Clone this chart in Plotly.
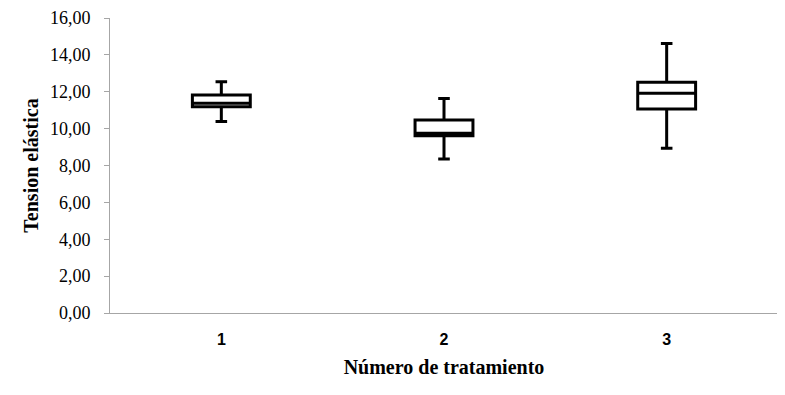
import plotly.graph_objects as go

categories = ["1", "2", "3"]
lower_whisker = [10.38, 8.35, 8.93]
q1_values = [11.19, 9.62, 11.06]
median_values = [11.38, 9.75, 11.92]
q3_values = [11.82, 10.47, 12.51]
upper_whisker = [12.54, 11.64, 14.62]

y_tick_values = [0, 2, 4, 6, 8, 10, 12, 14, 16]
y_tick_labels = ["0,00", "2,00", "4,00", "6,00", "8,00", "10,00", "12,00", "14,00", "16,00"]

fig = go.Figure()
fig.add_trace(go.Box(
    x=categories,
    q1=q1_values,
    median=median_values,
    q3=q3_values,
    lowerfence=lower_whisker,
    upperfence=upper_whisker,
    boxpoints=False,
    fillcolor="white",
    line=dict(color="black", width=3),
    whiskerwidth=0.2,
    width=0.26,
    showlegend=False,
))

fig.update_layout(
    width=777, height=387,
    margin=dict(l=102, r=7, t=10, b=82),
    paper_bgcolor="white", plot_bgcolor="white",
    xaxis=dict(
        type="category",
        range=[-0.5, 2.5],
        automargin=False,
        showline=True, linecolor="#a6a6a6", linewidth=1,
        ticks="", showgrid=False,
        ticklabelstandoff=12,
        tickfont=dict(family="Liberation Sans", size=16, color="black", weight="bold"),
        title=dict(text="<b>Número de tratamiento</b>",
                   font=dict(family="Liberation Serif", size=20, color="black"),
                   standoff=12),
    ),
    yaxis=dict(
        range=[0, 16],
        automargin=False,
        tickvals=y_tick_values, ticktext=y_tick_labels,
        showline=True, linecolor="#a6a6a6", linewidth=1,
        ticks="outside", ticklen=5, tickcolor="#a6a6a6",
        ticklabelstandoff=10,
        ticklabeloverflow="allow",
        showgrid=False, zeroline=False,
        tickfont=dict(family="Liberation Serif", size=18, color="black"),
        title=dict(text="<b>Tension elástica</b>",
                   font=dict(family="Liberation Serif", size=20, color="black"),
                   standoff=5),
    ),
)

fig.write_html("out.html")
